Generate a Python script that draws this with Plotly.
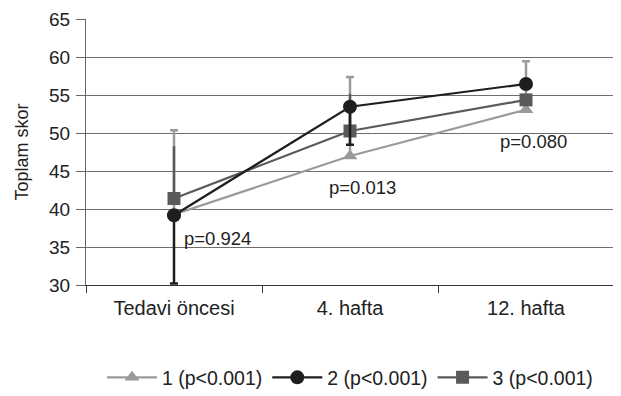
import plotly.graph_objects as go

categories = ["Tedavi öncesi", "4. hafta", "12. hafta"]
names = ["1 (p<0.001)", "2 (p<0.001)", "3 (p<0.001)"]
s1 = [39.3, 47.0, 53.1]
s2 = [39.2, 53.5, 56.5]
s3 = [41.4, 50.3, 54.4]
s1_err_plus = [11.1, 10.4, 6.4]
s2_err_minus = [9.0, 5.0, 0.0]
s3_err_plus = [6.9, 4.9, 0.0]
pvals = ["p=0.924", "p=0.013", "p=0.080"]
p_y = [36.1, 42.9, 48.9]
p_x_shift = [0.045, 0.07, 0.04]

c1, c2, c3 = "#9a9a9a", "#1e1e1e", "#5a5a5a"
font = "Liberation Sans, Arial, sans-serif"

fig = go.Figure()
fig.add_trace(go.Scatter(
    x=categories, y=s1, name=names[0], mode="lines+markers",
    line=dict(color=c1, width=2.2),
    marker=dict(symbol="triangle-up", size=13, color=c1),
    error_y=dict(type="data", array=s1_err_plus, arrayminus=[0, 0, 0],
                 symmetric=False, color=c1, thickness=2.5, width=4)))
fig.add_trace(go.Scatter(
    x=categories, y=s3, name=names[2], mode="lines+markers",
    line=dict(color=c3, width=2.2),
    marker=dict(symbol="square", size=13, color=c3),
    error_y=dict(type="data", array=s3_err_plus, arrayminus=[0, 0, 0],
                 symmetric=False, color=c3, thickness=2.5, width=0),
    showlegend=False))
fig.add_trace(go.Scatter(
    x=categories, y=s2, name=names[1], mode="lines+markers",
    line=dict(color=c2, width=2.2),
    marker=dict(symbol="circle", size=14, color=c2),
    error_y=dict(type="data", array=[0, 0, 0], arrayminus=s2_err_minus,
                 symmetric=False, color=c2, thickness=2.5, width=4)))
fig.add_trace(go.Scatter(
    x=[None], y=[None], name=names[2], mode="lines+markers",
    line=dict(color=c3, width=2.2),
    marker=dict(symbol="square", size=13, color=c3)))

for i, t in enumerate(pvals):
    fig.add_annotation(x=i + p_x_shift[i], y=p_y[i], text=t, showarrow=False,
                       xanchor="left" if i == 0 else "center",
                       font=dict(size=18.5, color="#222", family=font))

fig.update_layout(
    width=613, height=388,
    margin=dict(l=78, r=7, t=11, b=111, autoexpand=False),
    plot_bgcolor="white", paper_bgcolor="white",
    font=dict(family=font, color="#222", size=20),
    showlegend=True,
    legend=dict(orientation="h", x=0.5, xanchor="center", y=-0.275, yanchor="top",
                font=dict(size=19.5), traceorder="normal", itemwidth=50),
    xaxis=dict(type="category", range=[-0.5, 2.5], showline=True,
               linecolor="#333", linewidth=1.2, ticks="outside",
               tickson="boundaries", ticklen=7, tickcolor="#333",
               showgrid=False, tickfont=dict(size=20), automargin=False,
               ticklabelstandoff=5),
    yaxis=dict(range=[30, 65.06], tickvals=[30, 35, 40, 45, 50, 55, 60, 65],
               showline=True, linecolor="#666",
               linewidth=1.2, ticks="outside", ticklen=9, tickcolor="#666",
               gridcolor="#6e6e6e", gridwidth=1, zeroline=False,
               tickfont=dict(size=19), automargin=False, ticklabelstandoff=2,
               ticklabeloverflow="allow",
               title=dict(text="Toplam skor", font=dict(size=18), standoff=15)),
)

fig.write_html("out.html")
